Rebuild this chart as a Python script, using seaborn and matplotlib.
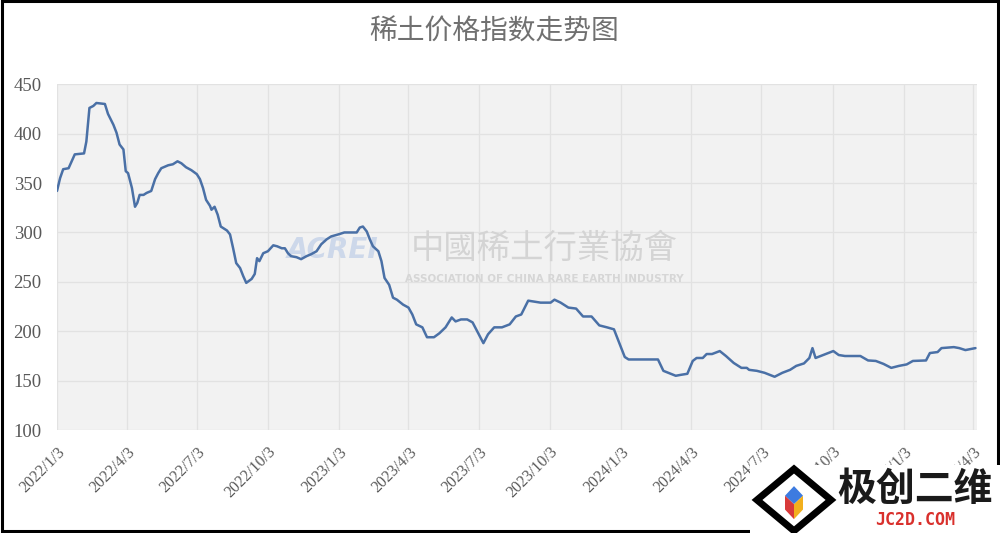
import matplotlib
matplotlib.use("Agg")
import matplotlib.pyplot as plt
from matplotlib.patches import Rectangle, Polygon
import seaborn as sns
import pandas as pd

dates = [
    "2022-01-03", "2022-01-07", "2022-01-11", "2022-01-18", "2022-01-22", "2022-01-26",
    "2022-02-07", "2022-02-10", "2022-02-14", "2022-02-19", "2022-02-23", "2022-03-06",
    "2022-03-10", "2022-03-17", "2022-03-21", "2022-03-25", "2022-03-30", "2022-04-02",
    "2022-04-05", "2022-04-10", "2022-04-14", "2022-04-17", "2022-04-20", "2022-04-25",
    "2022-04-29", "2022-05-05", "2022-05-10", "2022-05-14", "2022-05-18", "2022-05-27",
    "2022-06-02", "2022-06-08", "2022-06-13", "2022-06-19", "2022-06-26", "2022-07-03",
    "2022-07-07", "2022-07-11", "2022-07-15", "2022-07-20", "2022-07-22", "2022-07-26",
    "2022-07-30", "2022-08-03", "2022-08-11", "2022-08-15", "2022-08-19", "2022-08-23",
    "2022-08-28", "2022-09-01", "2022-09-05", "2022-09-12", "2022-09-16", "2022-09-19",
    "2022-09-22", "2022-09-27", "2022-10-03", "2022-10-10", "2022-10-15", "2022-10-21",
    "2022-10-25", "2022-10-29", "2022-11-02", "2022-11-09", "2022-11-15", "2022-11-22",
    "2022-11-28", "2022-12-05", "2022-12-11", "2022-12-18", "2022-12-24", "2023-01-02",
    "2023-01-10", "2023-01-26", "2023-01-30", "2023-02-03", "2023-02-08", "2023-02-12",
    "2023-02-16", "2023-02-23", "2023-02-27", "2023-03-03", "2023-03-09", "2023-03-14",
    "2023-03-19", "2023-03-27", "2023-04-03", "2023-04-08", "2023-04-13", "2023-04-21",
    "2023-04-27", "2023-05-06", "2023-05-13", "2023-05-21", "2023-05-29", "2023-06-03",
    "2023-06-10", "2023-06-18", "2023-06-25", "2023-07-03", "2023-07-09", "2023-07-15",
    "2023-07-23", "2023-08-02", "2023-08-12", "2023-08-20", "2023-08-27", "2023-09-05",
    "2023-09-21", "2023-10-04", "2023-10-09", "2023-10-17", "2023-10-27", "2023-11-06",
    "2023-11-15", "2023-11-26", "2023-12-06", "2023-12-16", "2023-12-25", "2023-12-31",
    "2024-01-08", "2024-01-13", "2024-02-20", "2024-02-27", "2024-03-14", "2024-03-21",
    "2024-03-29", "2024-04-05", "2024-04-10", "2024-04-18", "2024-04-23", "2024-04-30",
    "2024-05-10", "2024-05-18", "2024-05-28", "2024-06-07", "2024-06-14", "2024-06-17",
    "2024-06-27", "2024-07-07", "2024-07-20", "2024-07-30", "2024-08-09", "2024-08-17",
    "2024-08-27", "2024-09-03", "2024-09-07", "2024-09-11", "2024-09-21", "2024-10-04",
    "2024-10-11", "2024-10-19", "2024-11-08", "2024-11-18", "2024-11-28", "2024-12-08",
    "2024-12-18", "2024-12-28", "2025-01-07", "2025-01-15", "2025-02-01", "2025-02-06",
    "2025-02-16", "2025-02-21", "2025-03-09", "2025-03-16", "2025-03-24", "2025-04-06",
]
index_values = [
    342, 355, 364, 365, 372, 379,
    380, 392, 426, 428, 431, 430,
    420, 409, 401, 389, 384, 362,
    360, 345, 326, 330, 338, 338,
    340, 342, 354, 360, 365, 368,
    369, 372, 370, 366, 363, 359,
    354, 345, 333, 327, 323, 326,
    318, 306, 302, 298, 284, 269,
    264, 256, 249, 253, 258, 274,
    271, 279, 281, 287, 286, 284,
    284, 279, 276, 275, 273, 276,
    278, 281, 288, 293, 296, 298,
    300, 300, 305, 306, 301, 293,
    286, 281, 271, 254, 247, 234,
    232, 227, 224, 217, 207, 204,
    194, 194, 198, 204, 214, 210,
    212, 212, 209, 197, 188, 197,
    204, 204, 207, 215, 217, 231,
    229, 229, 232, 229, 224, 223,
    215, 215, 206, 204, 202, 190,
    174, 171.5, 171.5, 160, 155, 156,
    157, 170, 173, 173, 177, 177,
    180, 175, 168, 163, 163, 161,
    160, 158, 154, 158, 161, 165,
    167.5, 173, 183, 173, 176, 180,
    176, 175, 175, 170.5, 170, 167,
    163, 165, 166.5, 170, 170.5, 178,
    179, 183, 184, 183, 181, 183,
]
tick_dates = ["2022-01-03", "2022-04-03", "2022-07-03", "2022-10-03", "2023-01-03",
              "2023-04-03", "2023-07-03", "2023-10-03", "2024-01-03", "2024-04-03",
              "2024-07-03", "2024-10-03", "2025-01-03", "2025-04-03"]
tick_labels = ["2022/1/3", "2022/4/3", "2022/7/3", "2022/10/3", "2023/1/3",
               "2023/4/3", "2023/7/3", "2023/10/3", "2024/1/3", "2024/4/3",
               "2024/7/3", "2024/10/3", "2025/1/3", "2025/4/3"]
y_ticks = [100, 150, 200, 250, 300, 350, 400, 450]

sns.set_theme(style="white")
plt.rcParams['font.family'] = ['Liberation Serif', 'DejaVu Serif']

df = pd.DataFrame({"date": pd.to_datetime(dates), "value": index_values})

fig = plt.figure(figsize=(10, 5.33), dpi=100)
ax = fig.add_axes([0.057, 0.193, 0.920, 0.649])
ax.set_facecolor("#f2f2f2")

# watermark
ax.text(0.30, 0.52, "ACREI", transform=ax.transAxes, ha="center", va="center",
        fontsize=20, fontweight="bold", fontstyle="italic", color="#cdd8ea",
        family=["DejaVu Sans"], zorder=1)
ax.text(0.53, 0.526, "中國稀土行業協會", transform=ax.transAxes, ha="center", va="center",
        fontsize=24, color="#d4d4d4", family=["Noto Sans CJK TC", "DejaVu Sans"], zorder=1)
ax.text(0.53, 0.437, "ASSOCIATION OF CHINA RARE EARTH INDUSTRY", transform=ax.transAxes,
        ha="center", va="center", fontsize=7.5, fontweight="bold", color="#d6d6d6",
        family=["DejaVu Sans"], zorder=1)

sns.lineplot(data=df, x="date", y="value", ax=ax, color="#4a70a6", linewidth=1.8, zorder=3)

ax.set_xlim(pd.Timestamp("2022-01-03"), pd.Timestamp("2025-04-08"))
ax.set_ylim(100, 450)
ax.set_yticks(y_ticks)
ax.set_yticklabels([str(v) for v in y_ticks])
ax.set_xticks(pd.to_datetime(tick_dates))
ax.set_xticklabels(tick_labels, rotation=45, ha="right", rotation_mode="anchor")
ax.tick_params(axis="y", labelsize=13.5, labelcolor="#595959", length=0, pad=11)
ax.tick_params(axis="x", labelsize=11.5, labelcolor="#595959", length=0, pad=10)
ax.grid(True, color="#e2e2e2", linewidth=0.9)
ax.set_axisbelow(True)
for s in ax.spines.values():
    s.set_visible(False)
ax.set_xlabel("")
ax.set_ylabel("")

fig.text(0.494, 0.94, "稀土价格指数走势图", ha="center", va="center", fontsize=20,
         color="#707070", family=["Noto Sans CJK SC", "DejaVu Sans"])

# figure frame
fig.patches.append(Rectangle((0.0015, 0.004), 0.996, 0.994, transform=fig.transFigure,
                             fill=False, edgecolor="black", linewidth=2.2, zorder=0))

# logo box bottom-right
fig.patches.append(Rectangle((0.75, 0.0), 0.25, 0.128, transform=fig.transFigure,
                             facecolor="white", edgecolor="none", zorder=5))
cx, cy = 0.794, 0.062
lw = 0.037
fig.patches.append(Polygon([(cx - lw, cy), (cx, cy + 0.058), (cx + lw, cy), (cx, cy - 0.058)],
                           closed=True, transform=fig.transFigure, fill=False,
                           edgecolor="black", linewidth=5, zorder=6))
s = 0.009
fig.patches.append(Polygon([(cx - s, cy + 0.008), (cx, cy + 0.026), (cx + s, cy + 0.008), (cx, cy - 0.008)],
                           closed=True, transform=fig.transFigure, facecolor="#3d7be0", edgecolor="none", zorder=7))
fig.patches.append(Polygon([(cx - s, cy + 0.008), (cx, cy - 0.008), (cx, cy - 0.036), (cx - s, cy - 0.018)],
                           closed=True, transform=fig.transFigure, facecolor="#d83a3a", edgecolor="none", zorder=7))
fig.patches.append(Polygon([(cx + s, cy + 0.008), (cx, cy - 0.008), (cx, cy - 0.036), (cx + s, cy - 0.018)],
                           closed=True, transform=fig.transFigure, facecolor="#f2b01e", edgecolor="none", zorder=7))
fig.text(0.915, 0.082, "极创二维", ha="center", va="center", fontsize=28, fontweight="bold",
         color="#1a1a1a", family=["Noto Sans CJK SC", "DejaVu Sans"], zorder=8)
fig.text(0.915, 0.024, "JC2D.COM", ha="center", va="center", fontsize=12, fontweight="bold",
         color="#d9302c", family=["DejaVu Sans Mono"], zorder=8)

fig.savefig("out.png", dpi=100)
